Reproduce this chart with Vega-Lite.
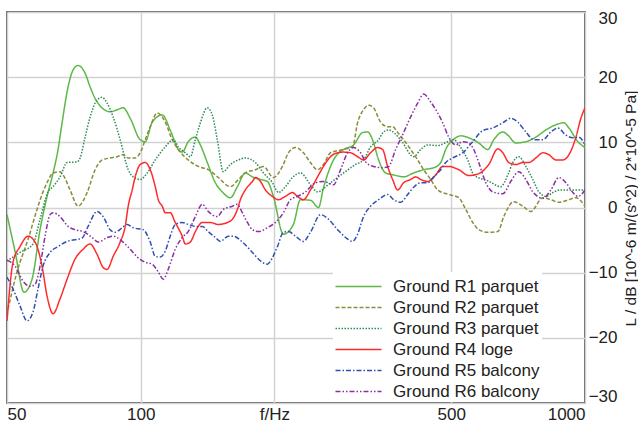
{
  "$schema": "https://vega.github.io/schema/vega-lite/v6.json",
  "width": 578,
  "height": 391,
  "autosize": {"type": "none"},
  "padding": {"left": 7, "top": 12, "right": 53, "bottom": 19},
  "background": "white",
  "config": {
    "font": "Liberation Sans",
    "view": {"stroke": "#333333", "strokeWidth": 1.6},
    "axis": {"labelFont": "Liberation Sans", "titleFont": "Liberation Sans", "labelColor": "#222222", "titleColor": "#222222", "labelFontSize": 17, "titleFontSize": 15.5, "titleFontWeight": "normal", "gridColor": "#d2d2d2", "gridWidth": 1.5, "gridOpacity": 1},
    "legend": {"labelFont": "Liberation Sans", "labelFontSize": 17, "labelColor": "#222222"}
  },
  "data": {"values": [
    {"s":"Ground R1 parquet","f":50,"v":-1.1},{"s":"Ground R1 parquet","f":52.12,"v":-6.7},{"s":"Ground R1 parquet","f":54.61,"v":-13},{"s":"Ground R1 parquet","f":56.93,"v":-11},{"s":"Ground R1 parquet","f":59.34,"v":-3.4},{"s":"Ground R1 parquet","f":61.54,"v":1.7},{"s":"Ground R1 parquet","f":63.49,"v":5.3},{"s":"Ground R1 parquet","f":65.15,"v":8.9},{"s":"Ground R1 parquet","f":66.52,"v":13},{"s":"Ground R1 parquet","f":68.62,"v":18.5},{"s":"Ground R1 parquet","f":70.42,"v":21.1},{"s":"Ground R1 parquet","f":72.28,"v":21.8},{"s":"Ground R1 parquet","f":74.96,"v":20.6},{"s":"Ground R1 parquet","f":76.93,"v":18.5},{"s":"Ground R1 parquet","f":79.77,"v":16.2},{"s":"Ground R1 parquet","f":85.34,"v":14.7},{"s":"Ground R1 parquet","f":88.5,"v":15},{"s":"Ground R1 parquet","f":91.3,"v":15.3},{"s":"Ground R1 parquet","f":94.68,"v":13.7},{"s":"Ground R1 parquet","f":99.73,"v":10.4},{"s":"Ground R1 parquet","f":102.35,"v":10.1},{"s":"Ground R1 parquet","f":106.14,"v":13.1},{"s":"Ground R1 parquet","f":111.8,"v":14.2},{"s":"Ground R1 parquet","f":116.5,"v":11.9},{"s":"Ground R1 parquet","f":121.5,"v":8.9},{"s":"Ground R1 parquet","f":124,"v":8.5},{"s":"Ground R1 parquet","f":127.9,"v":10.1},{"s":"Ground R1 parquet","f":132.7,"v":10.8},{"s":"Ground R1 parquet","f":136.2,"v":9.6},{"s":"Ground R1 parquet","f":141.2,"v":6.9},{"s":"Ground R1 parquet","f":147.2,"v":3.8},{"s":"Ground R1 parquet","f":152.6,"v":2.4},{"s":"Ground R1 parquet","f":159.1,"v":1.5},{"s":"Ground R1 parquet","f":165,"v":3.2},{"s":"Ground R1 parquet","f":172,"v":5.3},{"s":"Ground R1 parquet","f":178.4,"v":4.7},{"s":"Ground R1 parquet","f":186,"v":4.3},{"s":"Ground R1 parquet","f":192.8,"v":4},{"s":"Ground R1 parquet","f":198.9,"v":1.7},{"s":"Ground R1 parquet","f":209.5,"v":-4.1},{"s":"Ground R1 parquet","f":220.6,"v":-2.6},{"s":"Ground R1 parquet","f":228.8,"v":1.2},{"s":"Ground R1 parquet","f":241,"v":1.1},{"s":"Ground R1 parquet","f":251.3,"v":0},{"s":"Ground R1 parquet","f":257.8,"v":3},{"s":"Ground R1 parquet","f":271.6,"v":7.3},{"s":"Ground R1 parquet","f":286.1,"v":8.9},{"s":"Ground R1 parquet","f":301.4,"v":9.6},{"s":"Ground R1 parquet","f":315.7,"v":11.5},{"s":"Ground R1 parquet","f":324.1,"v":11.6},{"s":"Ground R1 parquet","f":332.5,"v":10.4},{"s":"Ground R1 parquet","f":343.1,"v":7.3},{"s":"Ground R1 parquet","f":355.8,"v":5.3},{"s":"Ground R1 parquet","f":370.8,"v":5},{"s":"Ground R1 parquet","f":390.6,"v":4.7},{"s":"Ground R1 parquet","f":411.4,"v":5.3},{"s":"Ground R1 parquet","f":433.3,"v":5.8},{"s":"Ground R1 parquet","f":456.5,"v":6.1},{"s":"Ground R1 parquet","f":473.4,"v":6.9},{"s":"Ground R1 parquet","f":485.8,"v":8.9},{"s":"Ground R1 parquet","f":511.8,"v":10.7},{"s":"Ground R1 parquet","f":525.1,"v":11},{"s":"Ground R1 parquet","f":547.4,"v":10.7},{"s":"Ground R1 parquet","f":576.6,"v":9.9},{"s":"Ground R1 parquet","f":604.2,"v":8.9},{"s":"Ground R1 parquet","f":623.2,"v":10.4},{"s":"Ground R1 parquet","f":653,"v":11.6},{"s":"Ground R1 parquet","f":670.3,"v":11.1},{"s":"Ground R1 parquet","f":698.7,"v":9.9},{"s":"Ground R1 parquet","f":735.9,"v":10.1},{"s":"Ground R1 parquet","f":775.2,"v":10.8},{"s":"Ground R1 parquet","f":816.5,"v":11.9},{"s":"Ground R1 parquet","f":860,"v":12.7},{"s":"Ground R1 parquet","f":896.3,"v":13},{"s":"Ground R1 parquet","f":920,"v":12.2},{"s":"Ground R1 parquet","f":964,"v":10.1},{"s":"Ground R1 parquet","f":1000,"v":9.2},

    {"s":"Ground R2 parquet","f":50.26,"v":-15.6},{"s":"Ground R2 parquet","f":52.66,"v":-9.9},{"s":"Ground R2 parquet","f":55.76,"v":-4.9},{"s":"Ground R2 parquet","f":58.42,"v":-0.3},{"s":"Ground R2 parquet","f":60.27,"v":2.4},{"s":"Ground R2 parquet","f":61.54,"v":3.8},{"s":"Ground R2 parquet","f":63.49,"v":5.3},{"s":"Ground R2 parquet","f":65.83,"v":5.5},{"s":"Ground R2 parquet","f":66.87,"v":5},{"s":"Ground R2 parquet","f":69.34,"v":2.7},{"s":"Ground R2 parquet","f":72.28,"v":0.2},{"s":"Ground R2 parquet","f":75.74,"v":2.3},{"s":"Ground R2 parquet","f":78.95,"v":5.8},{"s":"Ground R2 parquet","f":81.87,"v":7.3},{"s":"Ground R2 parquet","f":85.34,"v":7.6},{"s":"Ground R2 parquet","f":88.5,"v":7.8},{"s":"Ground R2 parquet","f":91.3,"v":8.1},{"s":"Ground R2 parquet","f":93.7,"v":7.6},{"s":"Ground R2 parquet","f":97.17,"v":7.6},{"s":"Ground R2 parquet","f":99.73,"v":8.4},{"s":"Ground R2 parquet","f":102.35,"v":10.4},{"s":"Ground R2 parquet","f":105.05,"v":12.4},{"s":"Ground R2 parquet","f":108.93,"v":14.5},{"s":"Ground R2 parquet","f":113.55,"v":13.1},{"s":"Ground R2 parquet","f":117.75,"v":10.4},{"s":"Ground R2 parquet","f":121.5,"v":8.9},{"s":"Ground R2 parquet","f":127.9,"v":7.3},{"s":"Ground R2 parquet","f":134.8,"v":6.3},{"s":"Ground R2 parquet","f":141.9,"v":5.8},{"s":"Ground R2 parquet","f":149.5,"v":4.6},{"s":"Ground R2 parquet","f":159.1,"v":3.2},{"s":"Ground R2 parquet","f":165.9,"v":4.3},{"s":"Ground R2 parquet","f":172,"v":5.3},{"s":"Ground R2 parquet","f":181.2,"v":5.8},{"s":"Ground R2 parquet","f":188.9,"v":6.3},{"s":"Ground R2 parquet","f":198.9,"v":4.6},{"s":"Ground R2 parquet","f":208.4,"v":6.3},{"s":"Ground R2 parquet","f":215,"v":8.4},{"s":"Ground R2 parquet","f":223,"v":9.2},{"s":"Ground R2 parquet","f":232.4,"v":8.4},{"s":"Ground R2 parquet","f":241,"v":6.9},{"s":"Ground R2 parquet","f":250,"v":5.8},{"s":"Ground R2 parquet","f":257.8,"v":6.6},{"s":"Ground R2 parquet","f":267.4,"v":8.4},{"s":"Ground R2 parquet","f":286.1,"v":8.9},{"s":"Ground R2 parquet","f":299.8,"v":9.3},{"s":"Ground R2 parquet","f":307.7,"v":13},{"s":"Ground R2 parquet","f":317.3,"v":15},{"s":"Ground R2 parquet","f":325.8,"v":15.7},{"s":"Ground R2 parquet","f":334.2,"v":15.3},{"s":"Ground R2 parquet","f":346.7,"v":13.1},{"s":"Ground R2 parquet","f":359.5,"v":12.4},{"s":"Ground R2 parquet","f":368.9,"v":12.4},{"s":"Ground R2 parquet","f":378.7,"v":11.5},{"s":"Ground R2 parquet","f":390.6,"v":10.4},{"s":"Ground R2 parquet","f":405.1,"v":8.9},{"s":"Ground R2 parquet","f":420.1,"v":7.3},{"s":"Ground R2 parquet","f":433.3,"v":5.8},{"s":"Ground R2 parquet","f":449.4,"v":4.3},{"s":"Ground R2 parquet","f":466.1,"v":2.7},{"s":"Ground R2 parquet","f":493.5,"v":2},{"s":"Ground R2 parquet","f":519.8,"v":1.5},{"s":"Ground R2 parquet","f":539,"v":-0.3},{"s":"Ground R2 parquet","f":558.9,"v":-2.3},{"s":"Ground R2 parquet","f":576.6,"v":-3.4},{"s":"Ground R2 parquet","f":604.2,"v":-3.8},{"s":"Ground R2 parquet","f":636.4,"v":-3.7},{"s":"Ground R2 parquet","f":656.4,"v":-1.4},{"s":"Ground R2 parquet","f":691.4,"v":0.9},{"s":"Ground R2 parquet","f":724.5,"v":0.2},{"s":"Ground R2 parquet","f":755.2,"v":-0.6},{"s":"Ground R2 parquet","f":803.7,"v":1.5},{"s":"Ground R2 parquet","f":837.9,"v":1.2},{"s":"Ground R2 parquet","f":873.4,"v":0.8},{"s":"Ground R2 parquet","f":920,"v":1.2},{"s":"Ground R2 parquet","f":954.1,"v":1.5},{"s":"Ground R2 parquet","f":1000,"v":0.2},

    {"s":"Ground R3 parquet","f":50,"v":-8.2},{"s":"Ground R3 parquet","f":53.49,"v":-6.9},{"s":"Ground R3 parquet","f":57.23,"v":-5.6},{"s":"Ground R3 parquet","f":59.34,"v":-1.8},{"s":"Ground R3 parquet","f":61.86,"v":2.4},{"s":"Ground R3 parquet","f":63.49,"v":3.2},{"s":"Ground R3 parquet","f":65.83,"v":4.7},{"s":"Ground R3 parquet","f":68.27,"v":6.9},{"s":"Ground R3 parquet","f":71.91,"v":7},{"s":"Ground R3 parquet","f":73.04,"v":7.6},{"s":"Ground R3 parquet","f":74.96,"v":10.8},{"s":"Ground R3 parquet","f":76.93,"v":13.9},{"s":"Ground R3 parquet","f":79.77,"v":16.5},{"s":"Ground R3 parquet","f":81.87,"v":16.9},{"s":"Ground R3 parquet","f":84.02,"v":16},{"s":"Ground R3 parquet","f":86.68,"v":13.9},{"s":"Ground R3 parquet","f":89.89,"v":10.4},{"s":"Ground R3 parquet","f":93.7,"v":5.8},{"s":"Ground R3 parquet","f":96.17,"v":4.7},{"s":"Ground R3 parquet","f":99.73,"v":4.3},{"s":"Ground R3 parquet","f":103.42,"v":5.3},{"s":"Ground R3 parquet","f":107.81,"v":7.3},{"s":"Ground R3 parquet","f":113.55,"v":9.3},{"s":"Ground R3 parquet","f":118.4,"v":10.4},{"s":"Ground R3 parquet","f":121.5,"v":9.3},{"s":"Ground R3 parquet","f":126,"v":8.4},{"s":"Ground R3 parquet","f":129.3,"v":7.8},{"s":"Ground R3 parquet","f":132.7,"v":10.4},{"s":"Ground R3 parquet","f":136.2,"v":13},{"s":"Ground R3 parquet","f":141.2,"v":15.3},{"s":"Ground R3 parquet","f":144.9,"v":14.2},{"s":"Ground R3 parquet","f":148.7,"v":10.4},{"s":"Ground R3 parquet","f":153.4,"v":5.5},{"s":"Ground R3 parquet","f":159.1,"v":6.6},{"s":"Ground R3 parquet","f":165.9,"v":7.3},{"s":"Ground R3 parquet","f":172,"v":7.6},{"s":"Ground R3 parquet","f":181.2,"v":6.9},{"s":"Ground R3 parquet","f":188.9,"v":5.3},{"s":"Ground R3 parquet","f":197.9,"v":3.8},{"s":"Ground R3 parquet","f":204.2,"v":2.3},{"s":"Ground R3 parquet","f":211.7,"v":3.2},{"s":"Ground R3 parquet","f":219.5,"v":4.6},{"s":"Ground R3 parquet","f":228.8,"v":5.3},{"s":"Ground R3 parquet","f":241,"v":3.5},{"s":"Ground R3 parquet","f":250,"v":2.4},{"s":"Ground R3 parquet","f":267.4,"v":3.8},{"s":"Ground R3 parquet","f":286.1,"v":5.3},{"s":"Ground R3 parquet","f":304.5,"v":6.6},{"s":"Ground R3 parquet","f":317.3,"v":7.3},{"s":"Ground R3 parquet","f":329.1,"v":9.3},{"s":"Ground R3 parquet","f":343.1,"v":10.4},{"s":"Ground R3 parquet","f":352.1,"v":11.6},{"s":"Ground R3 parquet","f":361.4,"v":11.9},{"s":"Ground R3 parquet","f":384.6,"v":10.4},{"s":"Ground R3 parquet","f":411.4,"v":7.8},{"s":"Ground R3 parquet","f":426.7,"v":8.9},{"s":"Ground R3 parquet","f":442.5,"v":9.6},{"s":"Ground R3 parquet","f":466.1,"v":9.5},{"s":"Ground R3 parquet","f":490.9,"v":10.1},{"s":"Ground R3 parquet","f":506.4,"v":10.4},{"s":"Ground R3 parquet","f":525.1,"v":9.2},{"s":"Ground R3 parquet","f":544.6,"v":7.3},{"s":"Ground R3 parquet","f":561.8,"v":5},{"s":"Ground R3 parquet","f":604.2,"v":4.1},{"s":"Ground R3 parquet","f":646.3,"v":3.2},{"s":"Ground R3 parquet","f":670.3,"v":5},{"s":"Ground R3 parquet","f":687.8,"v":6.9},{"s":"Ground R3 parquet","f":709.7,"v":7.8},{"s":"Ground R3 parquet","f":735.9,"v":6.3},{"s":"Ground R3 parquet","f":763.1,"v":4.3},{"s":"Ground R3 parquet","f":787.4,"v":2.4},{"s":"Ground R3 parquet","f":816.5,"v":1.7},{"s":"Ground R3 parquet","f":846.6,"v":2.3},{"s":"Ground R3 parquet","f":882.5,"v":2.7},{"s":"Ground R3 parquet","f":929.5,"v":2.7},{"s":"Ground R3 parquet","f":1000,"v":2.7},

    {"s":"Ground R4 loge","f":50,"v":-17.4},{"s":"Ground R4 loge","f":51.58,"v":-8.4},{"s":"Ground R4 loge","f":53.49,"v":-6},{"s":"Ground R4 loge","f":55.76,"v":-4.4},{"s":"Ground R4 loge","f":57.82,"v":-5.3},{"s":"Ground R4 loge","f":59.96,"v":-9},{"s":"Ground R4 loge","f":61.54,"v":-13.6},{"s":"Ground R4 loge","f":63.49,"v":-16.3},{"s":"Ground R4 loge","f":65.83,"v":-14},{"s":"Ground R4 loge","f":68.27,"v":-11},{"s":"Ground R4 loge","f":71.17,"v":-7.9},{"s":"Ground R4 loge","f":74.18,"v":-6.4},{"s":"Ground R4 loge","f":76.93,"v":-5.6},{"s":"Ground R4 loge","f":79.77,"v":-7.2},{"s":"Ground R4 loge","f":82.3,"v":-9.2},{"s":"Ground R4 loge","f":84.02,"v":-9.5},{"s":"Ground R4 loge","f":86.68,"v":-7.5},{"s":"Ground R4 loge","f":89.89,"v":-5.3},{"s":"Ground R4 loge","f":92.26,"v":-2.9},{"s":"Ground R4 loge","f":93.7,"v":0.2},{"s":"Ground R4 loge","f":95.67,"v":2.7},{"s":"Ground R4 loge","f":97.17,"v":4.7},{"s":"Ground R4 loge","f":99.73,"v":6.6},{"s":"Ground R4 loge","f":102.35,"v":6.9},{"s":"Ground R4 loge","f":105.05,"v":5.8},{"s":"Ground R4 loge","f":107.81,"v":3.2},{"s":"Ground R4 loge","f":109.5,"v":1.2},{"s":"Ground R4 loge","f":111.8,"v":0.2},{"s":"Ground R4 loge","f":113.55,"v":-0.8},{"s":"Ground R4 loge","f":116.5,"v":-0.8},{"s":"Ground R4 loge","f":119.6,"v":-2.3},{"s":"Ground R4 loge","f":124,"v":-4.4},{"s":"Ground R4 loge","f":126,"v":-5.6},{"s":"Ground R4 loge","f":129.3,"v":-5.3},{"s":"Ground R4 loge","f":132.7,"v":-3.7},{"s":"Ground R4 loge","f":137.6,"v":-2.3},{"s":"Ground R4 loge","f":143.4,"v":-2.3},{"s":"Ground R4 loge","f":149.5,"v":-2.6},{"s":"Ground R4 loge","f":156.7,"v":-2.3},{"s":"Ground R4 loge","f":160.8,"v":-1.8},{"s":"Ground R4 loge","f":165,"v":-0.3},{"s":"Ground R4 loge","f":167.6,"v":1.2},{"s":"Ground R4 loge","f":172,"v":2.7},{"s":"Ground R4 loge","f":178.4,"v":4},{"s":"Ground R4 loge","f":181.2,"v":4.6},{"s":"Ground R4 loge","f":186,"v":4},{"s":"Ground R4 loge","f":190.8,"v":2.7},{"s":"Ground R4 loge","f":197.9,"v":1.7},{"s":"Ground R4 loge","f":204.2,"v":1.2},{"s":"Ground R4 loge","f":211.7,"v":1.7},{"s":"Ground R4 loge","f":219.5,"v":2.3},{"s":"Ground R4 loge","f":225.3,"v":1.7},{"s":"Ground R4 loge","f":232.4,"v":1.2},{"s":"Ground R4 loge","f":241,"v":2.7},{"s":"Ground R4 loge","f":250,"v":4.7},{"s":"Ground R4 loge","f":257.8,"v":6.3},{"s":"Ground R4 loge","f":267.4,"v":7.8},{"s":"Ground R4 loge","f":277.3,"v":8.4},{"s":"Ground R4 loge","f":286.1,"v":8.5},{"s":"Ground R4 loge","f":296.7,"v":8.4},{"s":"Ground R4 loge","f":307.7,"v":7.8},{"s":"Ground R4 loge","f":317.3,"v":7.3},{"s":"Ground R4 loge","f":329.1,"v":8.4},{"s":"Ground R4 loge","f":341.3,"v":9.2},{"s":"Ground R4 loge","f":350.3,"v":8.9},{"s":"Ground R4 loge","f":359.5,"v":6.3},{"s":"Ground R4 loge","f":368.9,"v":4.3},{"s":"Ground R4 loge","f":378.7,"v":2.7},{"s":"Ground R4 loge","f":390.6,"v":3.8},{"s":"Ground R4 loge","f":405.1,"v":4.3},{"s":"Ground R4 loge","f":415.8,"v":4.7},{"s":"Ground R4 loge","f":426.7,"v":4.3},{"s":"Ground R4 loge","f":442.5,"v":4},{"s":"Ground R4 loge","f":461.3,"v":5},{"s":"Ground R4 loge","f":478.3,"v":6.3},{"s":"Ground R4 loge","f":493.5,"v":6.3},{"s":"Ground R4 loge","f":519.8,"v":5.8},{"s":"Ground R4 loge","f":547.4,"v":4.9},{"s":"Ground R4 loge","f":576.6,"v":5.2},{"s":"Ground R4 loge","f":607.3,"v":6.6},{"s":"Ground R4 loge","f":636.4,"v":9},{"s":"Ground R4 loge","f":653,"v":8.4},{"s":"Ground R4 loge","f":673.8,"v":6.9},{"s":"Ground R4 loge","f":698.7,"v":6.6},{"s":"Ground R4 loge","f":724.5,"v":6.9},{"s":"Ground R4 loge","f":747.5,"v":6.9},{"s":"Ground R4 loge","f":775.2,"v":7.6},{"s":"Ground R4 loge","f":803.7,"v":8.4},{"s":"Ground R4 loge","f":829.3,"v":8.1},{"s":"Ground R4 loge","f":860,"v":7.3},{"s":"Ground R4 loge","f":891.7,"v":7.3},{"s":"Ground R4 loge","f":920,"v":8.1},{"s":"Ground R4 loge","f":954.1,"v":10.8},{"s":"Ground R4 loge","f":979,"v":13.7},{"s":"Ground R4 loge","f":1000,"v":15.3},

    {"s":"Ground R5 balcony","f":50,"v":-10.7},{"s":"Ground R5 balcony","f":51.58,"v":-12.5},{"s":"Ground R5 balcony","f":53.49,"v":-15.1},{"s":"Ground R5 balcony","f":55.47,"v":-17.4},{"s":"Ground R5 balcony","f":57.23,"v":-16},{"s":"Ground R5 balcony","f":58.72,"v":-12.5},{"s":"Ground R5 balcony","f":60.27,"v":-9},{"s":"Ground R5 balcony","f":62.51,"v":-6.9},{"s":"Ground R5 balcony","f":65.15,"v":-6},{"s":"Ground R5 balcony","f":68.27,"v":-5.2},{"s":"Ground R5 balcony","f":71.91,"v":-4.9},{"s":"Ground R5 balcony","f":73.8,"v":-4.7},{"s":"Ground R5 balcony","f":76.13,"v":-2.9},{"s":"Ground R5 balcony","f":79.77,"v":-0.6},{"s":"Ground R5 balcony","f":82.3,"v":-1.4},{"s":"Ground R5 balcony","f":85.34,"v":-3.4},{"s":"Ground R5 balcony","f":87.59,"v":-3.8},{"s":"Ground R5 balcony","f":90.83,"v":-3.1},{"s":"Ground R5 balcony","f":93.22,"v":-2.6},{"s":"Ground R5 balcony","f":96.17,"v":-3.1},{"s":"Ground R5 balcony","f":101.3,"v":-3.4},{"s":"Ground R5 balcony","f":105.05,"v":-5.3},{"s":"Ground R5 balcony","f":107.81,"v":-7.5},{"s":"Ground R5 balcony","f":110.65,"v":-7.6},{"s":"Ground R5 balcony","f":113.55,"v":-6.7},{"s":"Ground R5 balcony","f":116.5,"v":-4.4},{"s":"Ground R5 balcony","f":119.6,"v":-2.6},{"s":"Ground R5 balcony","f":124,"v":-2.3},{"s":"Ground R5 balcony","f":127.9,"v":-2.6},{"s":"Ground R5 balcony","f":132.7,"v":-2.9},{"s":"Ground R5 balcony","f":137.6,"v":-2.9},{"s":"Ground R5 balcony","f":141.9,"v":-3.7},{"s":"Ground R5 balcony","f":147.2,"v":-4.6},{"s":"Ground R5 balcony","f":151.1,"v":-5.2},{"s":"Ground R5 balcony","f":157.5,"v":-4.4},{"s":"Ground R5 balcony","f":161.6,"v":-4.4},{"s":"Ground R5 balcony","f":169.3,"v":-5.3},{"s":"Ground R5 balcony","f":178.4,"v":-6.9},{"s":"Ground R5 balcony","f":186,"v":-8.2},{"s":"Ground R5 balcony","f":192.8,"v":-8.7},{"s":"Ground R5 balcony","f":195.9,"v":-8.2},{"s":"Ground R5 balcony","f":203.1,"v":-6},{"s":"Ground R5 balcony","f":209.5,"v":-3.8},{"s":"Ground R5 balcony","f":215,"v":-3.7},{"s":"Ground R5 balcony","f":223,"v":-4.4},{"s":"Ground R5 balcony","f":232.4,"v":-5.2},{"s":"Ground R5 balcony","f":241,"v":-3.8},{"s":"Ground R5 balcony","f":253.9,"v":-1.1},{"s":"Ground R5 balcony","f":264.7,"v":-1.8},{"s":"Ground R5 balcony","f":277.3,"v":-3.4},{"s":"Ground R5 balcony","f":289.1,"v":-4.6},{"s":"Ground R5 balcony","f":299.8,"v":-5.2},{"s":"Ground R5 balcony","f":307.7,"v":-4.1},{"s":"Ground R5 balcony","f":317.3,"v":-1.4},{"s":"Ground R5 balcony","f":329.1,"v":0.2},{"s":"Ground R5 balcony","f":343.1,"v":1.2},{"s":"Ground R5 balcony","f":359.5,"v":2},{"s":"Ground R5 balcony","f":370.8,"v":1.2},{"s":"Ground R5 balcony","f":384.6,"v":0.8},{"s":"Ground R5 balcony","f":398.9,"v":2},{"s":"Ground R5 balcony","f":411.4,"v":3.1},{"s":"Ground R5 balcony","f":426.7,"v":3.8},{"s":"Ground R5 balcony","f":442.5,"v":3.8},{"s":"Ground R5 balcony","f":456.5,"v":4.7},{"s":"Ground R5 balcony","f":473.4,"v":5.8},{"s":"Ground R5 balcony","f":485.8,"v":6.9},{"s":"Ground R5 balcony","f":503.8,"v":7.6},{"s":"Ground R5 balcony","f":530.6,"v":8.4},{"s":"Ground R5 balcony","f":558.9,"v":10.1},{"s":"Ground R5 balcony","f":588.7,"v":11.8},{"s":"Ground R5 balcony","f":620,"v":12.2},{"s":"Ground R5 balcony","f":653,"v":13},{"s":"Ground R5 balcony","f":680.7,"v":13.7},{"s":"Ground R5 balcony","f":706,"v":13.1},{"s":"Ground R5 balcony","f":735.9,"v":11.6},{"s":"Ground R5 balcony","f":767.1,"v":10.4},{"s":"Ground R5 balcony","f":803.7,"v":10.4},{"s":"Ground R5 balcony","f":837.9,"v":11.6},{"s":"Ground R5 balcony","f":868.9,"v":12.2},{"s":"Ground R5 balcony","f":905.8,"v":11.1},{"s":"Ground R5 balcony","f":939.2,"v":10.7},{"s":"Ground R5 balcony","f":969,"v":10.8},{"s":"Ground R5 balcony","f":1000,"v":9.6},

    {"s":"Ground R6 balcony","f":50,"v":-8.1},{"s":"Ground R6 balcony","f":52.12,"v":-9},{"s":"Ground R6 balcony","f":54.33,"v":-11.3},{"s":"Ground R6 balcony","f":56.34,"v":-12.1},{"s":"Ground R6 balcony","f":57.82,"v":-11.8},{"s":"Ground R6 balcony","f":59.34,"v":-9},{"s":"Ground R6 balcony","f":60.91,"v":-4.4},{"s":"Ground R6 balcony","f":62.51,"v":-1.1},{"s":"Ground R6 balcony","f":63.49,"v":-0.8},{"s":"Ground R6 balcony","f":65.83,"v":-1.4},{"s":"Ground R6 balcony","f":68.62,"v":-2.9},{"s":"Ground R6 balcony","f":71.17,"v":-3.4},{"s":"Ground R6 balcony","f":74.18,"v":-3.7},{"s":"Ground R6 balcony","f":77.73,"v":-4.6},{"s":"Ground R6 balcony","f":80.18,"v":-5.3},{"s":"Ground R6 balcony","f":84.02,"v":-4.6},{"s":"Ground R6 balcony","f":86.68,"v":-4.4},{"s":"Ground R6 balcony","f":90.83,"v":-5.2},{"s":"Ground R6 balcony","f":94.68,"v":-6.4},{"s":"Ground R6 balcony","f":98.18,"v":-7.6},{"s":"Ground R6 balcony","f":102.35,"v":-8.4},{"s":"Ground R6 balcony","f":106.14,"v":-8.7},{"s":"Ground R6 balcony","f":109.5,"v":-9.9},{"s":"Ground R6 balcony","f":112.4,"v":-11},{"s":"Ground R6 balcony","f":115.3,"v":-9.5},{"s":"Ground R6 balcony","f":119.6,"v":-6.4},{"s":"Ground R6 balcony","f":124,"v":-4.6},{"s":"Ground R6 balcony","f":127.9,"v":-3.7},{"s":"Ground R6 balcony","f":132.7,"v":-1.4},{"s":"Ground R6 balcony","f":137.6,"v":0.5},{"s":"Ground R6 balcony","f":141.9,"v":-0.6},{"s":"Ground R6 balcony","f":148.7,"v":-1.4},{"s":"Ground R6 balcony","f":153.4,"v":-0.3},{"s":"Ground R6 balcony","f":160.8,"v":0.2},{"s":"Ground R6 balcony","f":165,"v":0.5},{"s":"Ground R6 balcony","f":169.3,"v":-0.8},{"s":"Ground R6 balcony","f":173.8,"v":-2.3},{"s":"Ground R6 balcony","f":178.4,"v":-3.4},{"s":"Ground R6 balcony","f":184.1,"v":-3.7},{"s":"Ground R6 balcony","f":192.8,"v":-3.1},{"s":"Ground R6 balcony","f":201,"v":-2.3},{"s":"Ground R6 balcony","f":209.5,"v":-0.8},{"s":"Ground R6 balcony","f":217.2,"v":1.2},{"s":"Ground R6 balcony","f":225.3,"v":1.7},{"s":"Ground R6 balcony","f":234.8,"v":2.4},{"s":"Ground R6 balcony","f":247.4,"v":3.8},{"s":"Ground R6 balcony","f":257.8,"v":4},{"s":"Ground R6 balcony","f":271.6,"v":3.5},{"s":"Ground R6 balcony","f":281.7,"v":5.8},{"s":"Ground R6 balcony","f":292.1,"v":8.4},{"s":"Ground R6 balcony","f":301.4,"v":9.2},{"s":"Ground R6 balcony","f":312.4,"v":8.4},{"s":"Ground R6 balcony","f":320.8,"v":7},{"s":"Ground R6 balcony","f":334.2,"v":6.3},{"s":"Ground R6 balcony","f":350.3,"v":6.1},{"s":"Ground R6 balcony","f":361.4,"v":6.3},{"s":"Ground R6 balcony","f":374.8,"v":8.9},{"s":"Ground R6 balcony","f":390.6,"v":11.5},{"s":"Ground R6 balcony","f":405.1,"v":13.9},{"s":"Ground R6 balcony","f":420.1,"v":16},{"s":"Ground R6 balcony","f":433.3,"v":17.4},{"s":"Ground R6 balcony","f":449.4,"v":16.2},{"s":"Ground R6 balcony","f":466.1,"v":14.5},{"s":"Ground R6 balcony","f":478.3,"v":13},{"s":"Ground R6 balcony","f":493.5,"v":10.8},{"s":"Ground R6 balcony","f":511.8,"v":9.6},{"s":"Ground R6 balcony","f":530.6,"v":10.1},{"s":"Ground R6 balcony","f":547.4,"v":9.9},{"s":"Ground R6 balcony","f":561.8,"v":8.9},{"s":"Ground R6 balcony","f":576.6,"v":6.9},{"s":"Ground R6 balcony","f":598,"v":3.8},{"s":"Ground R6 balcony","f":620,"v":2.4},{"s":"Ground R6 balcony","f":653,"v":2.1},{"s":"Ground R6 balcony","f":680.7,"v":4},{"s":"Ground R6 balcony","f":709.7,"v":5.5},{"s":"Ground R6 balcony","f":735.9,"v":4.3},{"s":"Ground R6 balcony","f":763.1,"v":2.4},{"s":"Ground R6 balcony","f":803.7,"v":1.4},{"s":"Ground R6 balcony","f":837.9,"v":2.7},{"s":"Ground R6 balcony","f":873.4,"v":4.6},{"s":"Ground R6 balcony","f":905.8,"v":3.8},{"s":"Ground R6 balcony","f":939.2,"v":2.3},{"s":"Ground R6 balcony","f":964,"v":1.7},{"s":"Ground R6 balcony","f":1000,"v":2.7}
  ]},
  "mark": {"type": "line", "interpolate": "monotone", "clip": true},
  "encoding": {
    "x": {"field": "f", "type": "quantitative",
      "scale": {"type": "log", "domain": [50, 1000], "nice": false},
      "axis": {"values": [50, 100, 200, 500, 1000], "format": "d", "title": null, "labelFlush": true, "labelPadding": 3, "ticks": false, "domain": false,
        "labelExpr": "datum.value == 200 ? 'f/Hz' : datum.label"}},
    "y": {"field": "v", "type": "quantitative",
      "scale": {"domain": [-30, 30], "nice": false, "zero": false},
      "axis": {"orient": "right", "values": [-30, -20, -10, 0, 10, 20, 30], "ticks": false, "domain": false, "labelAlign": "right", "labelPadding": 32, "labelFlush": true, "labelFlushOffset": 2,
        "title": "L / dB [10^-6 m/(s^2) / 2*10^-5 Pa]", "titleAngle": 270, "titleAlign": "center", "titleBaseline": "middle", "titleX": 45, "titleY": 196}},
    "color": {"field": "s", "type": "nominal",
      "scale": {"domain": ["Ground R1 parquet", "Ground R2 parquet", "Ground R3 parquet", "Ground R4 loge", "Ground R5 balcony", "Ground R6 balcony"],
        "range": ["#5cb947", "#8c8c3c", "#2e8b57", "#ff2b2b", "#3050b0", "#8a2ea2"]},
      "legend": {"title": null, "orient": "none", "legendX": 326, "legendY": 260, "fillColor": "white", "padding": 2, "symbolType": "M-2,0H2", "symbolSize": 529, "symbolStrokeWidth": 1.5, "symbolFillColor": "transparent", "symbolOffset": 11, "labelOffset": 22, "rowPadding": 0}},
    "strokeDash": {"field": "s", "type": "nominal",
      "scale": {"domain": ["Ground R1 parquet", "Ground R2 parquet", "Ground R3 parquet", "Ground R4 loge", "Ground R5 balcony", "Ground R6 balcony"],
        "range": [[1, 0], [4, 2], [1.5, 1.5], [1, 0], [5, 2, 1.5, 2], [5, 2, 1.5, 2, 1.5, 2]]},
      "legend": {"title": null, "orient": "none", "legendX": 326, "legendY": 260, "fillColor": "white", "padding": 2, "symbolType": "M-2,0H2", "symbolSize": 529, "symbolStrokeWidth": 1.5, "symbolFillColor": "transparent", "symbolOffset": 11, "labelOffset": 22, "rowPadding": 0}},
    "strokeWidth": {"value": 1.5}
  }
}
